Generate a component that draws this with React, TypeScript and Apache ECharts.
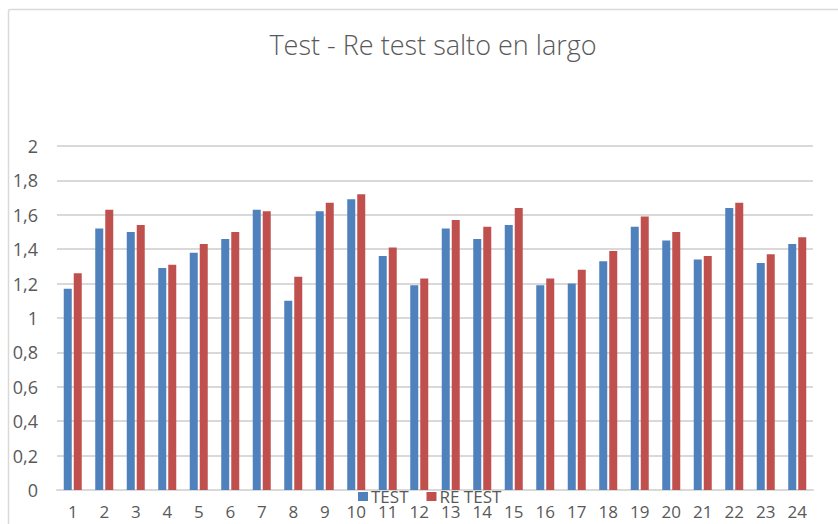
import React, { useEffect, useRef } from "react";
import * as echarts from "echarts";

const categories = ["1","2","3","4","5","6","7","8","9","10","11","12","13","14","15","16","17","18","19","20","21","22","23","24"];
const testValues = [1.17,1.52,1.50,1.29,1.38,1.46,1.63,1.10,1.62,1.69,1.36,1.19,1.52,1.46,1.54,1.19,1.20,1.33,1.53,1.45,1.34,1.64,1.32,1.43];
const retestValues = [1.26,1.63,1.54,1.31,1.43,1.50,1.62,1.24,1.67,1.72,1.41,1.23,1.57,1.53,1.64,1.23,1.28,1.39,1.59,1.50,1.36,1.67,1.37,1.47];
const seriesNames = ["TEST", "RE TEST"];
const titleText = "Test - Re test salto en largo";

const FONT = "'Open Sans', sans-serif";
const GRAY = "#595959";

export default function App() {
  const ref = useRef<HTMLDivElement>(null);
  useEffect(() => {
    if (!ref.current) return;
    const chart = echarts.init(ref.current, null, { renderer: "svg" });
    chart.setOption({
      animation: false,
      backgroundColor: "#ffffff",
      graphic: [
        {
          type: "rect",
          left: 6,
          top: 7,
          shape: { x: 0, y: 0, width: 850, height: 540, r: 2 },
          style: { fill: "none", stroke: "#D9D9D9", lineWidth: 1.5 },
          silent: true,
          z: -1,
        },
      ],
      title: {
        text: titleText,
        left: 428,
        textAlign: "center",
        top: 26,
        textStyle: { fontFamily: FONT, fontSize: 27, fontWeight: 300, color: GRAY },
      },
      legend: {
        data: seriesNames,
        left: 358,
        top: 488,
        itemWidth: 10,
        itemHeight: 9,
        itemGap: 18,
        icon: "rect",
        textStyle: { fontFamily: FONT, fontSize: 17, color: GRAY, padding: [0, 0, 0, -2] },
        padding: 0,
      },
      grid: { left: 57, right: 25, top: 146, bottom: 34, containLabel: false },
      xAxis: {
        type: "category",
        data: categories,
        axisLine: { lineStyle: { color: "#D9D9D9", width: 2 } },
        axisTick: { show: false },
        axisLabel: { fontFamily: FONT, fontSize: 17, color: GRAY, margin: 13 },
      },
      yAxis: {
        type: "value",
        min: 0,
        max: 2,
        interval: 0.2,
        axisLine: { show: false },
        axisTick: { show: false },
        splitLine: { lineStyle: { color: "#D9D9D9", width: 2 } },
        axisLabel: {
          fontFamily: FONT,
          fontSize: 18,
          color: GRAY,
          margin: 19,
          formatter: (v: number) => String(Math.round(v * 10) / 10).replace(".", ","),
        },
      },
      series: [
        {
          name: seriesNames[0],
          type: "bar",
          data: testValues,
          barWidth: 8,
          barGap: "25%",
          itemStyle: { color: "#4F81BD" },
        },
        {
          name: seriesNames[1],
          type: "bar",
          data: retestValues,
          barWidth: 8,
          barGap: "25%",
          itemStyle: { color: "#C0504D" },
        },
      ],
    });
    return () => chart.dispose();
  }, []);
  return (
    <div
      ref={ref}
      style={{ position: "fixed", left: 0, top: 0, width: 838, height: 524 }}
    />
  );
}
